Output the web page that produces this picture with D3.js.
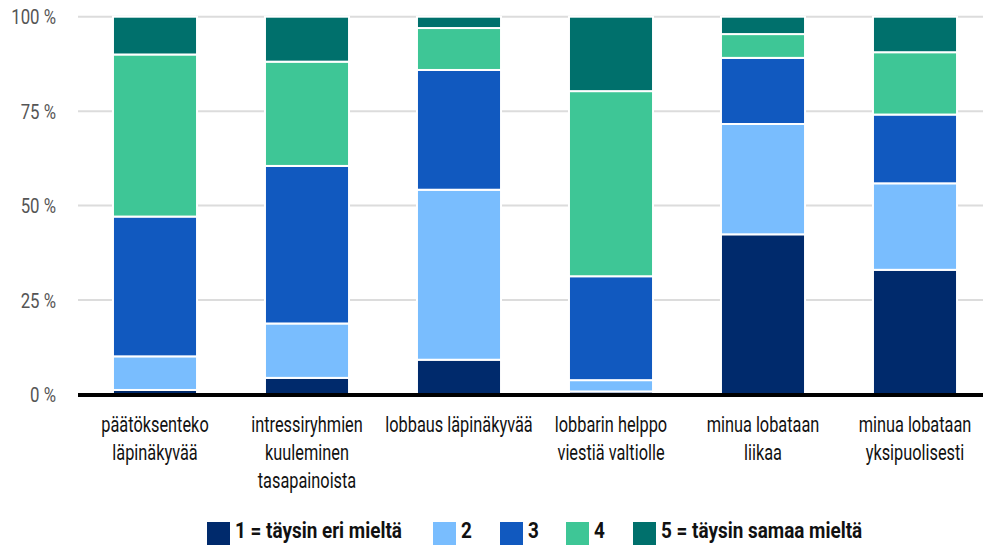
<!DOCTYPE html>
<html>
<head>
<meta charset="utf-8">
<script src="https://cdn.jsdelivr.net/npm/d3@7"></script>
<style>
  body { margin: 0; background: #fff; }
  svg { display: block; font-family: "Roboto", "Noto Sans", sans-serif; }
</style>
</head>
<body>
<div id="chart"></div>
<script>
// categories (x axis), each label split into lines
var categories = [
    ["päätöksenteko", "läpinäkyvää"],
    ["intressiryhmien", "kuuleminen", "tasapainoista"],
    ["lobbaus läpinäkyvää"],
    ["lobbarin helppo", "viestiä valtiolle"],
    ["minua lobataan", "liikaa"],
    ["minua lobataan", "yksipuolisesti"]
];

var seriesNames = ["1 = täysin eri mieltä", "2", "3", "4", "5 = täysin samaa mieltä"];
var seriesColors = ["#002a6c", "#79bdfe", "#1159bf", "#3ec696", "#00706c"];

// percent per answer, one array per series, same order as categories
var s1 = [1.2, 4.4, 9.2, 0.8, 42.4, 33.0];
var s2 = [8.9, 14.4, 45.0, 3.0, 29.2, 22.9];
var s3 = [37.0, 41.7, 31.7, 27.5, 17.5, 18.2];
var s4 = [42.9, 27.6, 11.1, 49.0, 6.3, 16.5];
var s5 = [10.0, 11.9, 3.0, 19.7, 4.6, 9.4];

var yTicks = [0, 25, 50, 75, 100];

var W = 983, H = 547;
var margin = {top: 17, right: -8, bottom: 153, left: 79};
var narrow = 0.76; // the source font is a condensed one

var svg = d3.select("#chart").append("svg")
    .attr("width", W)
    .attr("height", H);

var x = d3.scaleBand()
    .domain(d3.range(categories.length))
    .range([margin.left, W - margin.right])
    .paddingInner(0.447)
    .paddingOuter(0.2235);

var y = d3.scaleLinear()
    .domain([0, 100])
    .range([H - margin.bottom + 0.5, margin.top - 0.3]);

// gridlines
svg.append("g")
    .selectAll("line")
    .data(yTicks.slice(1))
    .enter().append("line")
    .attr("x1", 78).attr("x2", W)
    .attr("y1", function(d) { return y(d); })
    .attr("y2", function(d) { return y(d); })
    .attr("stroke", "#dcdcdc")
    .attr("stroke-width", 2);

// y tick labels
svg.append("g")
    .selectAll("text")
    .data(yTicks)
    .enter().append("text")
    .attr("transform", function(d) { return "translate(56," + (y(d) + 7.5) + ") scale(0.8,1)"; })
    .attr("text-anchor", "end")
    .attr("fill", "#555")
    .style("font-size", "21px")
    .text(function(d) { return d + " %"; });

// stack data
var table = categories.map(function(c, i) {
    return {i: i, a: s1[i], b: s2[i], c: s3[i], d: s4[i], e: s5[i]};
});
var keys = ["a", "b", "c", "d", "e"];
var stacked = d3.stack().keys(keys)(table);

svg.append("g")
    .selectAll("g")
    .data(stacked)
    .enter().append("g")
    .attr("fill", function(d, k) { return seriesColors[k]; })
    .selectAll("rect")
    .data(function(d) { return d; })
    .enter().append("rect")
    .attr("x", function(d) { return x(d.data.i); })
    .attr("width", x.bandwidth())
    .attr("y", function(d) { return y(d[1]); })
    .attr("height", function(d) { return Math.max(0, y(d[0]) - y(d[1])); })
    .attr("stroke", "#fff")
    .attr("stroke-width", 2);

// baseline
svg.append("line")
    .attr("x1", 78).attr("x2", W)
    .attr("y1", y(0) + 0.5).attr("y2", y(0) + 0.5)
    .attr("stroke", "#000")
    .attr("stroke-width", 4);

// category labels
var labels = svg.append("g")
    .selectAll("text")
    .data(categories)
    .enter().append("text")
    .attr("transform", function(d, i) { return "translate(" + (x(i) + x.bandwidth() / 2) + ",432) scale(" + narrow + ",1)"; })
    .attr("text-anchor", "middle")
    .attr("fill", "#111")
    .style("font-size", "21.5px");

labels.selectAll("tspan")
    .data(function(d) { return d; })
    .enter().append("tspan")
    .attr("x", 0)
    .attr("y", function(d, j) { return j * 28; })
    .text(function(d) { return d; });

// legend
var legendX = [207, 433, 500, 566, 633];
var legend = svg.append("g")
    .selectAll("g")
    .data(seriesNames)
    .enter().append("g")
    .attr("transform", function(d, k) { return "translate(" + legendX[k] + ",522)"; });

legend.append("rect")
    .attr("width", 23)
    .attr("height", 23)
    .attr("fill", function(d, k) { return seriesColors[k]; });

legend.append("text")
    .attr("transform", "translate(28,15.5) scale(0.86,1)")
    .attr("fill", "#111")
    .style("font-size", "22px")
    .style("font-weight", "bold")
    .text(function(d) { return d; });
</script>
</body>
</html>
